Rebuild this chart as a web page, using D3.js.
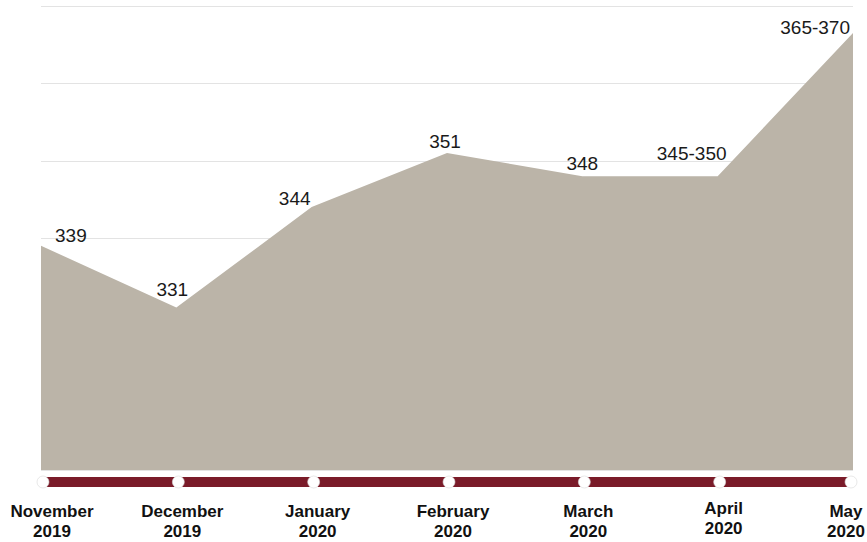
<!DOCTYPE html>
<html>
<head>
<meta charset="utf-8">
<script src="https://cdn.jsdelivr.net/npm/d3@7/dist/d3.min.js"></script>
<style>
  html, body { margin: 0; padding: 0; background: #ffffff; }
  svg { display: block; }
</style>
</head>
<body>
<svg id="chart" width="867" height="542"></svg>
<script>
// Monthly figures, November 2019 – May 2020
const months = ["November", "December", "January", "February", "March", "April", "May"];
const years = ["2019", "2019", "2020", "2020", "2020", "2020", "2020"];
const values = [339, 331, 344, 351, 348, 348, 366.5];
const valueLabels = ["339", "331", "344", "351", "348", "345-350", "365-370"];
const gridTicks = [310, 320, 330, 340, 350, 360, 370];

const width = 867, height = 542;
const plot = { left: 41, right: 853, top: 6, bottom: 470 };

const svg = d3.select("#chart");

const x = d3.scalePoint()
  .domain(months)
  .range([plot.left, plot.right]);

const y = d3.scaleLinear()
  .domain([310, 370])
  .range([plot.bottom, plot.top]);

// horizontal gridlines
svg.append("g")
  .selectAll("line")
  .data(gridTicks)
  .join("line")
  .attr("x1", plot.left)
  .attr("x2", plot.right)
  .attr("y1", d => Math.round(y(d)) + 0.5)
  .attr("y2", d => Math.round(y(d)) + 0.5)
  .attr("stroke", "#e3e3e3")
  .attr("stroke-width", 1);

// filled area
const area = d3.area()
  .x((d, i) => x(months[i]))
  .y0(y(310))
  .y1(d => y(d));

svg.append("path")
  .datum(values)
  .attr("d", area)
  .attr("fill", "#bbb4a8");

// value labels
const labelStyle = [
  { dx: 14, dy: -4, anchor: "start" },
  { dx: -4, dy: -12, anchor: "middle" },
  { dx: -17, dy: -2, anchor: "middle" },
  { dx: -2, dy: -5, anchor: "middle" },
  { dx: 0, dy: -6, anchor: "middle" },
  { dx: -26, dy: -16, anchor: "middle" },
  { dx: -3, dy: 1, anchor: "end" }
];

svg.append("g")
  .selectAll("text")
  .data(values)
  .join("text")
  .attr("x", (d, i) => x(months[i]) + labelStyle[i].dx)
  .attr("y", (d, i) => y(d) + labelStyle[i].dy)
  .attr("text-anchor", (d, i) => labelStyle[i].anchor)
  .attr("font-family", "Liberation Sans, Arial, sans-serif")
  .attr("font-size", 19)
  .attr("fill", "#1a1a1a")
  .text((d, i) => valueLabels[i]);

// timeline bar along the bottom
const barY = 482;
svg.append("rect")
  .attr("x", plot.left)
  .attr("y", barY - 5)
  .attr("width", plot.right - plot.left - 4)
  .attr("height", 10)
  .attr("fill", "#7a1b29");

svg.append("g")
  .selectAll("circle")
  .data(months)
  .join("circle")
  .attr("cx", (d, i) => x(d) + (i === months.length - 1 ? -2 : 2))
  .attr("cy", barY)
  .attr("r", 6)
  .attr("fill", "#ffffff")
  .attr("stroke", "#d8d8d8")
  .attr("stroke-width", 0.6);

// month / year labels
const axisLabels = svg.append("g")
  .attr("font-family", "Liberation Sans, Arial, sans-serif")
  .attr("font-size", 17)
  .attr("font-weight", "bold")
  .attr("fill", "#111111")
  .attr("text-anchor", "middle");

const labelX = (d, i) => {
  const px = x(d) + 6;
  return Math.min(Math.max(px, 52), 846);
};

axisLabels.selectAll("text")
  .data(months)
  .join("text")
  .attr("x", labelX)
  .attr("y", (d, i) => d === "April" ? 514 : 517)
  .each(function (d, i) {
    const t = d3.select(this);
    t.append("tspan").attr("x", labelX(d, i)).text(d);
    t.append("tspan").attr("x", labelX(d, i)).attr("dy", 20).text(years[i]);
  });
</script>
</body>
</html>
